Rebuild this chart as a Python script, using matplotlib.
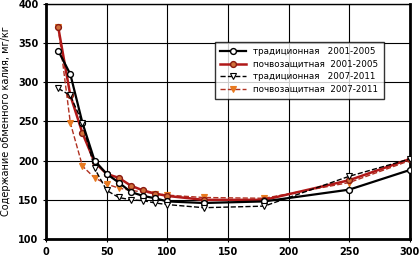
import matplotlib
matplotlib.use("Agg")
import matplotlib.pyplot as plt

x = [10, 20, 30, 40, 50, 60, 70, 80, 90, 100, 130, 180, 250, 300]
trad_0105 = [340, 310, 248, 200, 183, 172, 160, 155, 152, 148, 146, 148, 163, 188]
soil_0105 = [370, 283, 235, 198, 183, 178, 168, 162, 158, 155, 150, 150, 175, 202]
trad_0711 = [292, 283, 248, 190, 162, 153, 150, 149, 146, 144, 140, 142, 180, 202]
soil_0711 = [370, 248, 193, 178, 170, 165, 162, 160, 158, 156, 153, 152, 172, 200]

labels = ["традиционная   2001-2005", "почвозащитная  2001-2005",
          "традиционная   2007-2011", "почвозащитная  2007-2011"]

fig = plt.figure(figsize=(4.19, 2.56), dpi=100)
ax = fig.add_axes([0.11, 0.066, 0.868, 0.92])

ax.plot(x, trad_0105, "-", color="black", lw=1.6, marker="o", ms=4.2,
        mfc="white", mec="black", mew=1.0, label=labels[0], zorder=4)
ax.plot(x, soil_0105, "-", color="#b01818", lw=1.8, marker="o", ms=4.2,
        mfc="#d0703a", mec="#8a1a10", mew=1.0, label=labels[1], zorder=3)
ax.plot(x, trad_0711, "--", color="black", lw=1.0, marker="v", ms=4.2,
        mfc="white", mec="black", mew=0.8, label=labels[2], zorder=5)
ax.plot(x, soil_0711, "--", color="#b03020", lw=1.0, marker="v", ms=4.2,
        mfc="#e87a20", mec="#e87a20", mew=0.8, label=labels[3], zorder=2)

ax.set_xlim(0, 300)
ax.set_ylim(100, 400)
ax.set_xticks(range(0, 301, 50))
ax.set_yticks(range(100, 401, 50))
ax.grid(True, color="black", lw=0.8)
ax.tick_params(labelsize=7, length=2)
for lab in ax.get_xticklabels() + ax.get_yticklabels():
    lab.set_fontweight("bold")
for s in ax.spines.values():
    s.set_linewidth(1.0)
ax.spines["left"].set_linewidth(2.0)
ax.spines["right"].set_linewidth(2.0)
ax.spines["bottom"].set_linewidth(2.0)
ax.set_ylabel("Содержание обменного калия, мг/кг", fontsize=7, labelpad=5)

leg = ax.legend(loc="upper right", bbox_to_anchor=(0.94, 0.855), fontsize=6.3,
                frameon=True, fancybox=False, edgecolor="black",
                handlelength=3.0, borderpad=0.6, labelspacing=0.4)
leg.get_frame().set_linewidth(1.0)

fig.savefig("out.png", dpi=100)
